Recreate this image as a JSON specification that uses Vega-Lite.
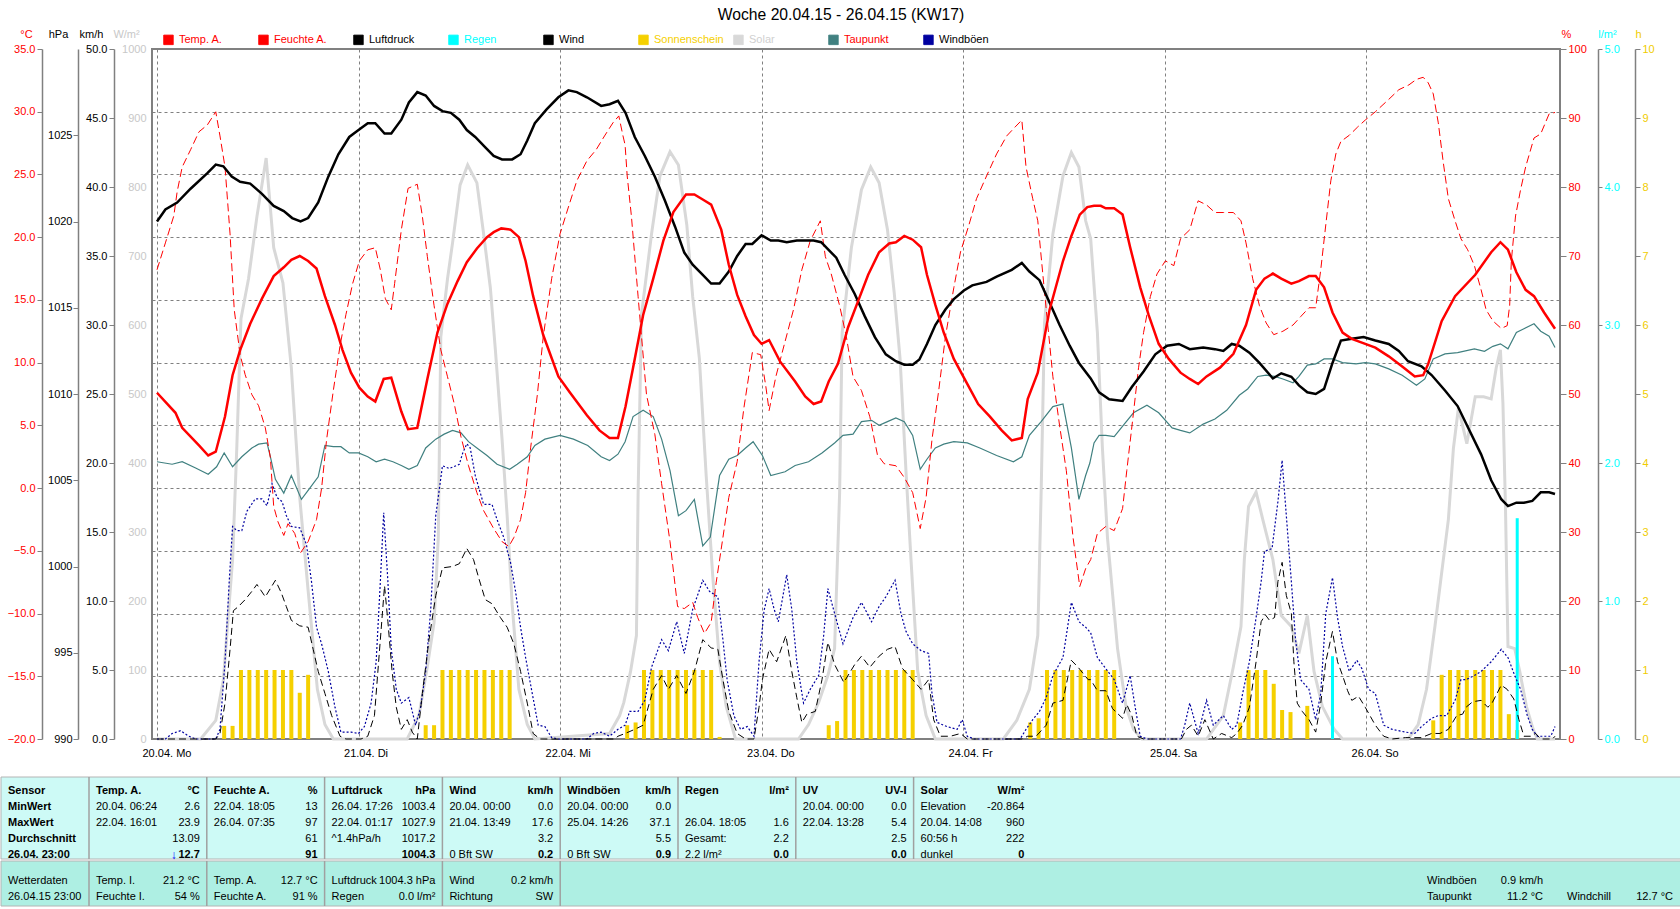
{
"$schema":"https://vega.github.io/schema/vega-lite/v6.json",
"background":"white",
"padding":{"left":0,"top":7,"right":0,"bottom":0},
"config":{"font":"Liberation Sans","view":{"stroke":null},"axis":{"labelFontSize":11,"titleFontSize":11,"titleFontWeight":"normal","domainColor":"#808080","domainWidth":1.5,"tickColor":"#808080","labelColor":"#000000","labelFlush":false,"labelOverlap":false,"grid":false},"text":{"color":"#000000"}},
"title":{"text":"Woche 20.04.15 - 26.04.15 (KW17)","fontSize":15.7,"fontWeight":"normal","color":"#000000","anchor":"middle","offset":3},
"datasets":{
"temp":[{"h":0,"v":7.6},{"h":2.2,"v":6.0},{"h":3,"v":4.8},{"h":5,"v":3.4},{"h":6.1,"v":2.6},{"h":7,"v":2.9},{"h":8.1,"v":5.7},{"h":9,"v":9.0},{"h":9.9,"v":11.0},{"h":11.1,"v":13.1},{"h":12.5,"v":15.1},{"h":13.9,"v":16.9},{"h":15.1,"v":17.6},{"h":16,"v":18.2},{"h":17,"v":18.5},{"h":18,"v":18.1},{"h":19,"v":17.5},{"h":20,"v":15.3},{"h":21.2,"v":13.0},{"h":22.1,"v":11.0},{"h":23.1,"v":9.2},{"h":24.1,"v":8.0},{"h":25.1,"v":7.3},{"h":26,"v":6.9},{"h":27,"v":8.7},{"h":27.9,"v":8.8},{"h":29.1,"v":6.1},{"h":29.9,"v":4.7},{"h":31,"v":4.8},{"h":32.2,"v":8.7},{"h":33.4,"v":12.4},{"h":34.6,"v":14.7},{"h":35.8,"v":16.5},{"h":36.9,"v":18.0},{"h":38.1,"v":19.1},{"h":39.3,"v":20.0},{"h":40.1,"v":20.4},{"h":41,"v":20.7},{"h":42.1,"v":20.6},{"h":43.1,"v":20.0},{"h":43.9,"v":18.1},{"h":44.8,"v":15.3},{"h":46,"v":12.2},{"h":47.8,"v":8.9},{"h":49.2,"v":7.6},{"h":51.2,"v":5.8},{"h":52.7,"v":4.6},{"h":53.9,"v":4.0},{"h":54.9,"v":4.0},{"h":55.8,"v":6.5},{"h":56.7,"v":9.6},{"h":57.9,"v":13.8},{"h":59.1,"v":16.7},{"h":60.3,"v":19.7},{"h":61.5,"v":22.0},{"h":63,"v":23.4},{"h":64,"v":23.4},{"h":65,"v":23.0},{"h":66,"v":22.6},{"h":67.2,"v":20.6},{"h":68.1,"v":17.8},{"h":69.1,"v":15.4},{"h":70.1,"v":13.7},{"h":71.1,"v":12.2},{"h":72,"v":11.5},{"h":72.9,"v":11.8},{"h":74.2,"v":10.1},{"h":76,"v":8.5},{"h":77.2,"v":7.3},{"h":78.2,"v":6.7},{"h":79.1,"v":6.9},{"h":80,"v":8.5},{"h":81.1,"v":9.9},{"h":82.3,"v":12.8},{"h":83.5,"v":14.9},{"h":84.7,"v":17.0},{"h":86,"v":18.8},{"h":87.2,"v":19.5},{"h":88,"v":19.6},{"h":89,"v":20.1},{"h":90,"v":19.8},{"h":91,"v":19.2},{"h":91.7,"v":17.0},{"h":92.7,"v":14.6},{"h":93.7,"v":12.4},{"h":94.9,"v":10.3},{"h":96.5,"v":8.3},{"h":97.8,"v":6.7},{"h":99.2,"v":5.7},{"h":100.6,"v":4.6},{"h":101.8,"v":3.8},{"h":103,"v":4.0},{"h":103.7,"v":7.1},{"h":104.9,"v":9.2},{"h":106.3,"v":14.2},{"h":107.9,"v":18.1},{"h":108.9,"v":20.1},{"h":109.9,"v":21.8},{"h":110.8,"v":22.4},{"h":111.6,"v":22.5},{"h":112.4,"v":22.5},{"h":113,"v":22.3},{"h":114,"v":22.3},{"h":115,"v":21.8},{"h":115.9,"v":19.2},{"h":117.1,"v":16.0},{"h":118.1,"v":13.8},{"h":119.3,"v":11.5},{"h":120.5,"v":10.3},{"h":121.9,"v":9.2},{"h":123,"v":8.7},{"h":124,"v":8.3},{"h":125,"v":8.9},{"h":126.6,"v":9.6},{"h":128.2,"v":10.7},{"h":129.7,"v":13.0},{"h":130.9,"v":15.8},{"h":131.9,"v":16.7},{"h":132.9,"v":17.1},{"h":133.9,"v":16.7},{"h":135.1,"v":16.3},{"h":136,"v":16.5},{"h":137.2,"v":16.9},{"h":138,"v":16.9},{"h":139,"v":16.0},{"h":140,"v":14.0},{"h":141.2,"v":12.4},{"h":142.3,"v":11.9},{"h":143.9,"v":11.5},{"h":145.1,"v":11.2},{"h":146.7,"v":10.5},{"h":148.3,"v":9.7},{"h":149.8,"v":8.9},{"h":150.8,"v":9.0},{"h":151.4,"v":9.9},{"h":153,"v":13.3},{"h":154.6,"v":15.3},{"h":157,"v":17.0},{"h":158.9,"v":18.8},{"h":160,"v":19.6},{"h":160.9,"v":19.0},{"h":161.9,"v":17.2},{"h":163,"v":15.8},{"h":164,"v":15.3},{"h":165.2,"v":14.0},{"h":166.5,"v":12.7}],
"druck":[{"h":0,"v":1020.0},{"h":1,"v":1020.7},{"h":2.4,"v":1021.1},{"h":4,"v":1021.9},{"h":6,"v":1022.8},{"h":7,"v":1023.3},{"h":7.9,"v":1023.2},{"h":8.9,"v":1022.6},{"h":9.9,"v":1022.3},{"h":11.1,"v":1022.2},{"h":12.5,"v":1021.6},{"h":13.9,"v":1020.9},{"h":15.1,"v":1020.6},{"h":16.1,"v":1020.2},{"h":17.1,"v":1020.0},{"h":18,"v":1020.2},{"h":19.2,"v":1021.1},{"h":20.4,"v":1022.6},{"h":21.6,"v":1023.9},{"h":22.9,"v":1024.9},{"h":24,"v":1025.3},{"h":25.1,"v":1025.7},{"h":26,"v":1025.7},{"h":27.1,"v":1025.1},{"h":27.9,"v":1025.1},{"h":29.1,"v":1025.9},{"h":30,"v":1026.9},{"h":31,"v":1027.5},{"h":32,"v":1027.3},{"h":33,"v":1026.7},{"h":34,"v":1026.4},{"h":35,"v":1026.3},{"h":36,"v":1025.9},{"h":36.9,"v":1025.3},{"h":37.9,"v":1024.9},{"h":39.1,"v":1024.3},{"h":40.1,"v":1023.8},{"h":41.1,"v":1023.6},{"h":42.3,"v":1023.6},{"h":43.3,"v":1023.9},{"h":44.1,"v":1024.7},{"h":45,"v":1025.7},{"h":46.4,"v":1026.5},{"h":47.8,"v":1027.2},{"h":49,"v":1027.6},{"h":50,"v":1027.5},{"h":51.2,"v":1027.2},{"h":52.9,"v":1026.7},{"h":53.9,"v":1026.8},{"h":54.9,"v":1027.0},{"h":55.8,"v":1026.3},{"h":56.9,"v":1024.9},{"h":58.1,"v":1023.8},{"h":59.3,"v":1022.6},{"h":60.5,"v":1021.2},{"h":61.7,"v":1019.7},{"h":62.8,"v":1018.2},{"h":63.8,"v":1017.5},{"h":65,"v":1016.9},{"h":66,"v":1016.4},{"h":67,"v":1016.4},{"h":68.1,"v":1017.1},{"h":69.1,"v":1018.0},{"h":70.1,"v":1018.7},{"h":70.9,"v":1018.7},{"h":72,"v":1019.2},{"h":73.1,"v":1018.9},{"h":74,"v":1018.9},{"h":75,"v":1018.8},{"h":76.2,"v":1018.9},{"h":77.2,"v":1018.9},{"h":78.2,"v":1018.9},{"h":79.1,"v":1018.8},{"h":79.9,"v":1018.4},{"h":80.9,"v":1017.9},{"h":81.9,"v":1016.9},{"h":83.1,"v":1015.8},{"h":84.3,"v":1014.5},{"h":85.5,"v":1013.3},{"h":86.8,"v":1012.3},{"h":88,"v":1011.9},{"h":89,"v":1011.7},{"h":90,"v":1011.7},{"h":90.8,"v":1012.0},{"h":91.7,"v":1012.9},{"h":92.7,"v":1014.0},{"h":93.9,"v":1014.9},{"h":94.9,"v":1015.5},{"h":96.1,"v":1016.0},{"h":97.1,"v":1016.3},{"h":98.8,"v":1016.5},{"h":100,"v":1016.8},{"h":101.8,"v":1017.2},{"h":103,"v":1017.6},{"h":103.9,"v":1017.1},{"h":105.1,"v":1016.6},{"h":106.3,"v":1015.3},{"h":107.5,"v":1014.0},{"h":108.7,"v":1012.8},{"h":109.8,"v":1011.8},{"h":111.2,"v":1010.9},{"h":112.2,"v":1010.1},{"h":113.4,"v":1009.7},{"h":115,"v":1009.6},{"h":116.1,"v":1010.4},{"h":117.5,"v":1011.3},{"h":118.9,"v":1012.3},{"h":120.3,"v":1012.8},{"h":121.7,"v":1012.9},{"h":123,"v":1012.6},{"h":124.6,"v":1012.7},{"h":126,"v":1012.6},{"h":127,"v":1012.5},{"h":128,"v":1012.9},{"h":128.9,"v":1012.8},{"h":130.1,"v":1012.4},{"h":131.3,"v":1011.8},{"h":132.9,"v":1010.9},{"h":133.9,"v":1011.2},{"h":135.1,"v":1011.0},{"h":136,"v":1010.5},{"h":137,"v":1010.1},{"h":138,"v":1010.0},{"h":139,"v":1010.3},{"h":140,"v":1011.8},{"h":141,"v":1013.1},{"h":142.3,"v":1013.2},{"h":143.7,"v":1013.3},{"h":145.1,"v":1013.1},{"h":146.7,"v":1012.9},{"h":147.9,"v":1012.5},{"h":149,"v":1011.9},{"h":150.6,"v":1011.6},{"h":151.8,"v":1011.1},{"h":153.4,"v":1010.2},{"h":154.9,"v":1009.3},{"h":156.3,"v":1007.9},{"h":157.7,"v":1006.5},{"h":158.9,"v":1005.0},{"h":160.1,"v":1003.9},{"h":160.9,"v":1003.5},{"h":161.9,"v":1003.7},{"h":162.8,"v":1003.7},{"h":163.8,"v":1003.8},{"h":164.8,"v":1004.3},{"h":165.8,"v":1004.3},{"h":166.5,"v":1004.2}],
"feuchte":[{"h":0,"v":68.0},{"h":1,"v":71.9},{"h":2,"v":75.8},{"h":2.4,"v":79.3},{"h":3,"v":82.9},{"h":4,"v":85.4},{"h":5,"v":88.0},{"h":6,"v":89.0},{"h":7,"v":90.9},{"h":7.5,"v":87.4},{"h":8.1,"v":82.9},{"h":8.7,"v":73.2},{"h":9.2,"v":62.2},{"h":9.9,"v":55.7},{"h":10.5,"v":52.8},{"h":11.3,"v":49.9},{"h":12.1,"v":48.3},{"h":12.9,"v":45.1},{"h":13.5,"v":40.8},{"h":13.9,"v":33.7},{"h":14.4,"v":31.5},{"h":15.1,"v":29.5},{"h":15.6,"v":31.2},{"h":16.4,"v":29.8},{"h":17.1,"v":27.0},{"h":18,"v":28.6},{"h":19,"v":31.8},{"h":19.6,"v":36.3},{"h":20.2,"v":43.4},{"h":21,"v":50.5},{"h":21.8,"v":57.0},{"h":22.5,"v":61.5},{"h":23.3,"v":66.0},{"h":24.1,"v":69.3},{"h":25.1,"v":70.9},{"h":26,"v":71.2},{"h":26.6,"v":68.0},{"h":27.2,"v":63.8},{"h":27.9,"v":62.2},{"h":28.3,"v":66.0},{"h":29.1,"v":73.8},{"h":29.9,"v":79.8},{"h":31,"v":80.4},{"h":31.6,"v":75.8},{"h":32.2,"v":69.9},{"h":33,"v":62.8},{"h":33.8,"v":56.4},{"h":34.6,"v":52.5},{"h":35.4,"v":48.6},{"h":36.2,"v":43.8},{"h":37.1,"v":39.6},{"h":38.1,"v":35.7},{"h":38.9,"v":33.1},{"h":40.1,"v":30.5},{"h":41.1,"v":28.6},{"h":41.9,"v":27.9},{"h":42.5,"v":29.2},{"h":43.3,"v":31.8},{"h":43.9,"v":35.7},{"h":44.5,"v":42.2},{"h":45.3,"v":49.9},{"h":46,"v":58.3},{"h":47,"v":66.7},{"h":48,"v":73.2},{"h":49,"v":77.1},{"h":50,"v":80.9},{"h":51.2,"v":83.8},{"h":52.3,"v":85.4},{"h":53.3,"v":87.4},{"h":54.3,"v":89.3},{"h":55,"v":90.3},{"h":55.5,"v":87.4},{"h":55.75,"v":86.1},{"h":56,"v":81.6},{"h":56.5,"v":75.8},{"h":57.3,"v":64.1},{"h":58.3,"v":49.9},{"h":59.3,"v":44.1},{"h":60.1,"v":37.0},{"h":61.1,"v":28.6},{"h":62,"v":19.2},{"h":62.8,"v":18.9},{"h":63.8,"v":19.8},{"h":64.4,"v":17.6},{"h":65.2,"v":15.3},{"h":66,"v":16.9},{"h":66.6,"v":22.7},{"h":67.4,"v":29.2},{"h":68.1,"v":35.0},{"h":69.1,"v":40.2},{"h":69.9,"v":48.0},{"h":70.9,"v":56.0},{"h":71.9,"v":55.7},{"h":72.5,"v":51.2},{"h":72.9,"v":47.6},{"h":73.7,"v":52.5},{"h":74.8,"v":57.6},{"h":75.8,"v":62.2},{"h":76.8,"v":68.0},{"h":77.8,"v":72.2},{"h":79,"v":75.1},{"h":79.6,"v":69.9},{"h":80.3,"v":67.4},{"h":81.3,"v":62.8},{"h":82.1,"v":58.3},{"h":82.9,"v":52.5},{"h":83.9,"v":50.5},{"h":84.9,"v":46.7},{"h":85.8,"v":41.2},{"h":86.6,"v":39.9},{"h":88,"v":39.6},{"h":89,"v":37.9},{"h":90,"v":35.7},{"h":90.9,"v":30.5},{"h":91.6,"v":35.0},{"h":92.3,"v":43.4},{"h":93.1,"v":50.5},{"h":93.9,"v":58.3},{"h":94.9,"v":65.4},{"h":95.7,"v":70.6},{"h":96.7,"v":74.5},{"h":97.6,"v":78.3},{"h":98.8,"v":81.6},{"h":100,"v":84.8},{"h":101.2,"v":87.4},{"h":102.2,"v":88.7},{"h":103,"v":89.7},{"h":103.5,"v":82.9},{"h":104.3,"v":78.3},{"h":104.9,"v":75.1},{"h":105.7,"v":64.8},{"h":106.7,"v":52.5},{"h":107.5,"v":45.4},{"h":108.3,"v":38.9},{"h":109.1,"v":29.2},{"h":109.9,"v":22.1},{"h":110.6,"v":24.7},{"h":111.2,"v":26.0},{"h":112,"v":29.8},{"h":113,"v":30.8},{"h":114,"v":30.2},{"h":115,"v":33.4},{"h":115.5,"v":38.9},{"h":116.3,"v":47.3},{"h":116.9,"v":53.8},{"h":117.5,"v":58.9},{"h":118.3,"v":64.1},{"h":119.1,"v":67.4},{"h":120.1,"v":69.3},{"h":121.1,"v":68.6},{"h":121.9,"v":72.5},{"h":123,"v":73.8},{"h":124,"v":78.0},{"h":125,"v":77.4},{"h":126,"v":76.3},{"h":127,"v":76.3},{"h":128.2,"v":76.3},{"h":129.1,"v":75.1},{"h":129.7,"v":71.9},{"h":130.5,"v":66.7},{"h":131.3,"v":62.8},{"h":132.1,"v":60.3},{"h":133,"v":58.6},{"h":134.1,"v":59.1},{"h":135.3,"v":60.0},{"h":136.2,"v":61.2},{"h":137.2,"v":62.5},{"h":138,"v":62.5},{"h":138.6,"v":68.0},{"h":139.2,"v":74.5},{"h":139.8,"v":80.9},{"h":140.4,"v":84.8},{"h":141,"v":86.6},{"h":142,"v":87.5},{"h":143,"v":88.7},{"h":143.9,"v":89.7},{"h":145.1,"v":90.9},{"h":146.7,"v":92.7},{"h":147.9,"v":94.1},{"h":149.1,"v":94.8},{"h":150,"v":95.6},{"h":150.8,"v":95.9},{"h":151.4,"v":95.1},{"h":152,"v":93.5},{"h":152.6,"v":89.3},{"h":153.2,"v":83.5},{"h":153.8,"v":78.3},{"h":154.6,"v":75.1},{"h":155.3,"v":72.5},{"h":156.1,"v":70.9},{"h":156.9,"v":68.6},{"h":157.7,"v":65.1},{"h":158.3,"v":62.2},{"h":159.1,"v":60.6},{"h":160.1,"v":59.5},{"h":160.8,"v":59.9},{"h":161.1,"v":62.8},{"h":161.3,"v":69.3},{"h":161.8,"v":75.8},{"h":162.4,"v":79.6},{"h":163,"v":82.9},{"h":164,"v":87.1},{"h":164.8,"v":87.7},{"h":165.8,"v":90.6},{"h":166.5,"v":90.8}],
"tau":[{"h":0,"v":2.1},{"h":1.8,"v":1.9},{"h":3,"v":2.1},{"h":4.6,"v":1.6},{"h":6.1,"v":1.1},{"h":7.1,"v":1.7},{"h":8,"v":2.8},{"h":9,"v":1.7},{"h":10.1,"v":2.5},{"h":11.3,"v":3.2},{"h":12.1,"v":3.5},{"h":13.1,"v":3.6},{"h":13.5,"v":2.5},{"h":14.1,"v":0.7},{"h":15.1,"v":-0.4},{"h":16,"v":1.0},{"h":17.2,"v":-0.9},{"h":18.2,"v":0.0},{"h":19.2,"v":0.9},{"h":20,"v":3.4},{"h":21,"v":3.3},{"h":21.9,"v":3.3},{"h":22.9,"v":2.8},{"h":24,"v":2.8},{"h":25.1,"v":2.5},{"h":26.1,"v":2.1},{"h":27.1,"v":2.3},{"h":28.1,"v":2.1},{"h":29.1,"v":1.8},{"h":30,"v":1.5},{"h":31,"v":1.8},{"h":32,"v":3.2},{"h":33.2,"v":3.9},{"h":34.2,"v":4.3},{"h":35.2,"v":4.6},{"h":36.2,"v":4.4},{"h":37.1,"v":3.7},{"h":38.3,"v":3.1},{"h":39.3,"v":2.6},{"h":40.5,"v":1.9},{"h":42,"v":1.5},{"h":42.9,"v":1.9},{"h":44.1,"v":2.5},{"h":45,"v":3.4},{"h":46.2,"v":3.9},{"h":48,"v":4.2},{"h":49.6,"v":3.9},{"h":51.3,"v":3.4},{"h":52.9,"v":2.5},{"h":53.9,"v":2.2},{"h":54.9,"v":2.7},{"h":55.75,"v":3.7},{"h":56.7,"v":5.7},{"h":57.9,"v":6.2},{"h":59.1,"v":5.7},{"h":60.1,"v":3.9},{"h":61.1,"v":1.4},{"h":62.1,"v":-2.2},{"h":63,"v":-1.8},{"h":64,"v":-0.9},{"h":65,"v":-4.6},{"h":65.9,"v":-3.9},{"h":67,"v":1.0},{"h":68.1,"v":2.3},{"h":69.1,"v":2.6},{"h":70.1,"v":3.2},{"h":71,"v":3.7},{"h":72.1,"v":2.6},{"h":73.1,"v":1.0},{"h":74.8,"v":1.3},{"h":76,"v":1.8},{"h":77.6,"v":2.1},{"h":79.2,"v":2.8},{"h":80.7,"v":3.6},{"h":81.7,"v":4.2},{"h":82.9,"v":4.3},{"h":83.9,"v":5.3},{"h":85.1,"v":5.4},{"h":86,"v":5.0},{"h":87,"v":5.3},{"h":88,"v":5.6},{"h":89,"v":5.3},{"h":90,"v":4.2},{"h":90.9,"v":1.5},{"h":91.7,"v":2.3},{"h":92.7,"v":3.2},{"h":93.7,"v":3.5},{"h":94.9,"v":3.7},{"h":96.5,"v":3.6},{"h":98,"v":3.2},{"h":100,"v":2.6},{"h":102,"v":2.1},{"h":103,"v":2.5},{"h":103.9,"v":4.2},{"h":105.3,"v":5.3},{"h":106.7,"v":6.5},{"h":107.9,"v":6.7},{"h":108.9,"v":3.2},{"h":109.8,"v":-0.9},{"h":110.6,"v":1.0},{"h":111.1,"v":2.0},{"h":111.6,"v":3.6},{"h":112.2,"v":4.2},{"h":113,"v":4.2},{"h":114,"v":4.1},{"h":115.2,"v":5.1},{"h":116.3,"v":6.0},{"h":117.9,"v":6.6},{"h":119.3,"v":6.0},{"h":120.9,"v":4.8},{"h":121.9,"v":4.6},{"h":123,"v":4.4},{"h":124.6,"v":5.1},{"h":126,"v":5.5},{"h":127.4,"v":6.2},{"h":128.9,"v":7.4},{"h":129.9,"v":7.9},{"h":131.1,"v":8.9},{"h":132.1,"v":9.0},{"h":133.1,"v":8.9},{"h":134.1,"v":8.7},{"h":135.3,"v":8.4},{"h":136,"v":8.9},{"h":137,"v":9.8},{"h":138,"v":9.9},{"h":139,"v":10.3},{"h":140,"v":10.3},{"h":141.2,"v":10.0},{"h":142.8,"v":9.9},{"h":143.9,"v":10.0},{"h":145.1,"v":9.9},{"h":146.7,"v":9.5},{"h":148.3,"v":9.0},{"h":150,"v":8.2},{"h":151,"v":8.7},{"h":152,"v":10.3},{"h":153.4,"v":10.7},{"h":154.9,"v":10.8},{"h":156.9,"v":11.1},{"h":158.1,"v":10.9},{"h":159.1,"v":11.3},{"h":160,"v":11.5},{"h":160.9,"v":11.1},{"h":161.9,"v":12.4},{"h":162.8,"v":12.7},{"h":164,"v":13.1},{"h":164.8,"v":12.5},{"h":165.8,"v":12.1},{"h":166.5,"v":11.2}],
"solar":[{"h":0,"v":0},{"h":5.2,"v":0},{"h":7,"v":27},{"h":7.9,"v":85},{"h":9,"v":260},{"h":9.5,"v":421},{"h":10,"v":609},{"h":10.9,"v":667},{"h":11.9,"v":757},{"h":13,"v":842},{"h":13.9,"v":712},{"h":15,"v":661},{"h":16,"v":538},{"h":17,"v":350},{"h":18,"v":215},{"h":19.1,"v":72},{"h":20,"v":21},{"h":21,"v":0},{"h":29.8,"v":0},{"h":31.2,"v":34},{"h":32.2,"v":105},{"h":33,"v":169},{"h":33.5,"v":292},{"h":33.8,"v":583},{"h":34.6,"v":667},{"h":35.2,"v":719},{"h":36.1,"v":803},{"h":37,"v":832},{"h":38.1,"v":806},{"h":38.9,"v":732},{"h":39.7,"v":654},{"h":40.3,"v":564},{"h":41.1,"v":434},{"h":41.7,"v":324},{"h":42.3,"v":195},{"h":43.1,"v":72},{"h":44.1,"v":21},{"h":45,"v":0},{"h":53.9,"v":8},{"h":55.1,"v":34},{"h":55.6,"v":53},{"h":56.4,"v":98},{"h":57.1,"v":150},{"h":57.3,"v":357},{"h":57.7,"v":615},{"h":58.9,"v":732},{"h":59.9,"v":816},{"h":61.1,"v":851},{"h":62.1,"v":832},{"h":63.1,"v":745},{"h":63.8,"v":641},{"h":64.6,"v":551},{"h":65.4,"v":383},{"h":66.2,"v":234},{"h":67,"v":111},{"h":67.8,"v":47},{"h":68.9,"v":0},{"h":76.4,"v":0},{"h":77.6,"v":21},{"h":78.8,"v":53},{"h":79.9,"v":92},{"h":80.7,"v":131},{"h":81.3,"v":357},{"h":81.6,"v":589},{"h":82.7,"v":712},{"h":83.9,"v":796},{"h":85,"v":829},{"h":86,"v":806},{"h":87,"v":738},{"h":87.8,"v":647},{"h":88.5,"v":551},{"h":89.2,"v":389},{"h":89.8,"v":260},{"h":90.6,"v":98},{"h":91.6,"v":34},{"h":92.7,"v":0},{"h":100.8,"v":0},{"h":102.4,"v":27},{"h":103.9,"v":72},{"h":104.9,"v":150},{"h":105.3,"v":357},{"h":105.7,"v":603},{"h":106.7,"v":732},{"h":107.9,"v":816},{"h":108.9,"v":850},{"h":109.8,"v":829},{"h":110.6,"v":751},{"h":111.2,"v":725},{"h":112,"v":589},{"h":112.6,"v":421},{"h":113.2,"v":292},{"h":114.4,"v":131},{"h":115.4,"v":47},{"h":116.3,"v":14},{"h":117.3,"v":0},{"h":125,"v":0},{"h":127,"v":34},{"h":128.2,"v":105},{"h":129.1,"v":163},{"h":129.5,"v":260},{"h":130,"v":337},{"h":130.9,"v":358},{"h":131.7,"v":318},{"h":132.9,"v":260},{"h":133.9,"v":179},{"h":135.1,"v":163},{"h":136,"v":124},{"h":137,"v":179},{"h":137.8,"v":98},{"h":138.8,"v":47},{"h":140.2,"v":14},{"h":141.2,"v":0},{"h":149,"v":0},{"h":150.2,"v":21},{"h":151.2,"v":72},{"h":152.2,"v":163},{"h":153.2,"v":260},{"h":153.8,"v":318},{"h":154.4,"v":421},{"h":155,"v":480},{"h":156,"v":428},{"h":157,"v":496},{"h":158,"v":496},{"h":158.9,"v":493},{"h":159.5,"v":538},{"h":160,"v":564},{"h":160.3,"v":486},{"h":160.6,"v":337},{"h":160.9,"v":134},{"h":161.7,"v":131},{"h":162.3,"v":98},{"h":163.1,"v":47},{"h":163.9,"v":14},{"h":164.4,"v":0},{"h":166.5,"v":0}],
"wind":[{"h":0,"v":0},{"h":7,"v":0},{"h":7.5,"v":0.4},{"h":8.1,"v":2.6},{"h":8.7,"v":6.5},{"h":9.1,"v":9.3},{"h":9.7,"v":9.6},{"h":10.5,"v":10.1},{"h":11.3,"v":10.7},{"h":11.9,"v":11.2},{"h":12.9,"v":10.3},{"h":13.5,"v":10.9},{"h":14.1,"v":11.5},{"h":14.8,"v":10.6},{"h":15.4,"v":9.6},{"h":16,"v":8.6},{"h":17,"v":8.2},{"h":18,"v":8.1},{"h":18.6,"v":6.5},{"h":19.2,"v":4.9},{"h":20,"v":3.3},{"h":20.8,"v":1.7},{"h":21.8,"v":0.2},{"h":22.5,"v":0},{"h":24.3,"v":0},{"h":25.1,"v":0.2},{"h":25.9,"v":1.7},{"h":26.6,"v":7.2},{"h":27.1,"v":11.1},{"h":27.5,"v":8.5},{"h":28,"v":4.9},{"h":28.5,"v":2.3},{"h":29.1,"v":0.7},{"h":29.8,"v":1.4},{"h":30.4,"v":0.5},{"h":31,"v":0},{"h":31.6,"v":3.3},{"h":32.4,"v":7.2},{"h":33.2,"v":10.4},{"h":34,"v":12.4},{"h":35.2,"v":12.5},{"h":36,"v":12.7},{"h":36.9,"v":13.8},{"h":37.7,"v":13.0},{"h":38.3,"v":11.7},{"h":39.1,"v":10.1},{"h":39.9,"v":9.8},{"h":40.9,"v":8.8},{"h":41.7,"v":8.1},{"h":42.5,"v":6.9},{"h":43.3,"v":4.9},{"h":44.1,"v":2.6},{"h":44.8,"v":0.4},{"h":45.6,"v":0},{"h":54.5,"v":0},{"h":54.9,"v":0.2},{"h":55.75,"v":0.4},{"h":56.9,"v":0.7},{"h":57.9,"v":1.0},{"h":58.5,"v":2.3},{"h":59.1,"v":3.6},{"h":60.1,"v":4.6},{"h":60.9,"v":3.6},{"h":61.9,"v":4.6},{"h":63,"v":3.3},{"h":64,"v":4.9},{"h":65,"v":7.2},{"h":66,"v":6.6},{"h":66.8,"v":6.5},{"h":67.4,"v":4.3},{"h":68.1,"v":2.0},{"h":69.1,"v":0.4},{"h":70.1,"v":0},{"h":71.1,"v":0},{"h":71.7,"v":2.3},{"h":72.1,"v":4.3},{"h":72.9,"v":6.5},{"h":73.8,"v":5.6},{"h":74.9,"v":7.5},{"h":75.6,"v":4.9},{"h":76.2,"v":3.0},{"h":76.8,"v":1.2},{"h":77.4,"v":1.8},{"h":78.4,"v":2.0},{"h":79.2,"v":4.3},{"h":79.9,"v":7.0},{"h":80.7,"v":5.4},{"h":81.8,"v":4.1},{"h":83.1,"v":5.4},{"h":83.9,"v":6.0},{"h":84.9,"v":5.2},{"h":86,"v":6.0},{"h":87,"v":6.5},{"h":87.9,"v":6.7},{"h":88.8,"v":5.1},{"h":90,"v":4.3},{"h":91,"v":3.6},{"h":91.9,"v":4.3},{"h":92.5,"v":1.4},{"h":93.3,"v":0.2},{"h":94.5,"v":0.2},{"h":95.7,"v":0.4},{"h":96.5,"v":0},{"h":103,"v":0},{"h":103.7,"v":0.2},{"h":104.7,"v":0.2},{"h":105.9,"v":1.0},{"h":106.7,"v":2.6},{"h":107.9,"v":2.8},{"h":108.9,"v":5.7},{"h":109.7,"v":5.2},{"h":110.9,"v":4.3},{"h":111.2,"v":4.3},{"h":112,"v":3.5},{"h":113,"v":3.5},{"h":113.8,"v":2.2},{"h":115,"v":1.5},{"h":115.5,"v":2.5},{"h":116.1,"v":1.7},{"h":116.7,"v":0.2},{"h":117.5,"v":0},{"h":122,"v":0},{"h":122.6,"v":0.7},{"h":123.2,"v":1.0},{"h":124,"v":0.2},{"h":124.8,"v":1.4},{"h":125.8,"v":0},{"h":126.8,"v":0.4},{"h":128,"v":0.1},{"h":128.6,"v":0.4},{"h":129.3,"v":1.0},{"h":130.1,"v":2.3},{"h":130.9,"v":5.6},{"h":131.5,"v":8.5},{"h":132,"v":9.0},{"h":132.5,"v":8.6},{"h":133.1,"v":8.8},{"h":133.5,"v":11.4},{"h":134,"v":12.8},{"h":134.5,"v":10.4},{"h":135.1,"v":9.1},{"h":135.4,"v":5.6},{"h":135.8,"v":2.6},{"h":136.4,"v":2.0},{"h":137.2,"v":1.4},{"h":138,"v":0.5},{"h":138.6,"v":2.6},{"h":139.2,"v":5.6},{"h":140,"v":7.8},{"h":140.6,"v":5.6},{"h":141.2,"v":4.6},{"h":141.8,"v":3.5},{"h":142.3,"v":2.8},{"h":143.1,"v":3.1},{"h":143.9,"v":2.3},{"h":145.1,"v":1.0},{"h":146.1,"v":0.2},{"h":147.1,"v":0},{"h":148.7,"v":0.1},{"h":150.6,"v":0.1},{"h":151.8,"v":0.4},{"h":152.8,"v":0.4},{"h":153.8,"v":0.7},{"h":154.8,"v":1.7},{"h":155.5,"v":1.8},{"h":155.9,"v":2.3},{"h":156.7,"v":2.7},{"h":157.7,"v":2.8},{"h":158.5,"v":2.3},{"h":159,"v":2.6},{"h":160.1,"v":3.9},{"h":160.8,"v":3.6},{"h":161.6,"v":2.9},{"h":162.2,"v":1.4},{"h":162.8,"v":0.2},{"h":163.6,"v":0.2},{"h":164.2,"v":0.4},{"h":164.8,"v":0},{"h":166.2,"v":0},{"h":166.5,"v":0.2}],
"boen":[{"h":0,"v":0},{"h":1,"v":0},{"h":1.8,"v":0.4},{"h":2.8,"v":0.6},{"h":3.8,"v":0.2},{"h":4.6,"v":0},{"h":7,"v":0},{"h":7.5,"v":0.7},{"h":8.1,"v":5.6},{"h":8.6,"v":11.4},{"h":9,"v":15.4},{"h":9.5,"v":15.1},{"h":10.1,"v":15.1},{"h":10.7,"v":16.5},{"h":11.7,"v":17.4},{"h":12.5,"v":17.4},{"h":13.1,"v":16.9},{"h":13.7,"v":18.5},{"h":14.3,"v":17.5},{"h":14.9,"v":17.2},{"h":15.4,"v":16.2},{"h":16,"v":15.4},{"h":17,"v":15.3},{"h":17.8,"v":14.1},{"h":18.4,"v":11.4},{"h":19,"v":8.1},{"h":19.6,"v":6.9},{"h":20.4,"v":4.9},{"h":21.2,"v":2.3},{"h":21.9,"v":0.5},{"h":23.1,"v":0.5},{"h":24,"v":0.4},{"h":24.7,"v":0.9},{"h":25.5,"v":2.6},{"h":26.1,"v":5.6},{"h":26.6,"v":11.4},{"h":27,"v":16.4},{"h":27.5,"v":11.4},{"h":27.9,"v":6.5},{"h":28.5,"v":3.6},{"h":29.1,"v":2.6},{"h":30,"v":3.0},{"h":30.8,"v":1.0},{"h":31.4,"v":2.3},{"h":32,"v":4.9},{"h":32.6,"v":9.4},{"h":33.2,"v":16.2},{"h":34,"v":19.8},{"h":34.8,"v":19.6},{"h":36,"v":19.9},{"h":36.4,"v":20.7},{"h":36.9,"v":21.4},{"h":37.3,"v":21.1},{"h":37.9,"v":19.1},{"h":38.9,"v":17.0},{"h":39.9,"v":17.0},{"h":40.5,"v":15.9},{"h":41.3,"v":14.6},{"h":42.1,"v":12.8},{"h":42.7,"v":10.7},{"h":43.3,"v":8.1},{"h":43.9,"v":5.9},{"h":44.6,"v":3.6},{"h":45.4,"v":1.0},{"h":46.2,"v":0.9},{"h":47,"v":0.1},{"h":47.8,"v":0},{"h":51.2,"v":0},{"h":52,"v":0.4},{"h":52.9,"v":0.5},{"h":53.9,"v":0.2},{"h":54.9,"v":0.7},{"h":55.75,"v":1.0},{"h":56.3,"v":2.0},{"h":57.3,"v":2.0},{"h":58.1,"v":2.8},{"h":58.9,"v":5.2},{"h":60.1,"v":7.2},{"h":60.9,"v":6.4},{"h":61.9,"v":8.5},{"h":62.8,"v":6.2},{"h":63.8,"v":9.4},{"h":65,"v":11.5},{"h":65.8,"v":10.7},{"h":66.8,"v":10.3},{"h":67.4,"v":7.2},{"h":67.9,"v":4.3},{"h":68.7,"v":1.7},{"h":69.5,"v":0.7},{"h":70.3,"v":0.9},{"h":71.1,"v":0.2},{"h":71.7,"v":5.6},{"h":72.3,"v":9.3},{"h":72.9,"v":10.9},{"h":73.5,"v":9.4},{"h":74,"v":8.5},{"h":75,"v":11.9},{"h":75.6,"v":9.4},{"h":76.2,"v":5.6},{"h":77,"v":2.6},{"h":77.8,"v":3.6},{"h":78.8,"v":4.6},{"h":79.4,"v":7.5},{"h":79.9,"v":10.9},{"h":80.7,"v":9.1},{"h":81.7,"v":6.9},{"h":82.9,"v":8.8},{"h":83.9,"v":9.9},{"h":85.1,"v":8.5},{"h":86,"v":9.6},{"h":86.8,"v":10.3},{"h":87.9,"v":11.5},{"h":88.6,"v":9.1},{"h":89.2,"v":7.8},{"h":90,"v":6.9},{"h":91,"v":6.4},{"h":91.9,"v":6.2},{"h":92.3,"v":3.3},{"h":92.9,"v":1.2},{"h":94.1,"v":0.9},{"h":95.3,"v":0.7},{"h":95.9,"v":1.4},{"h":96.5,"v":0.2},{"h":97.3,"v":0},{"h":102.8,"v":0},{"h":103.5,"v":0.7},{"h":104.3,"v":1.4},{"h":105.1,"v":2.0},{"h":105.9,"v":3.0},{"h":106.7,"v":4.6},{"h":107.9,"v":5.9},{"h":108.9,"v":9.9},{"h":109.8,"v":8.5},{"h":110.6,"v":8.1},{"h":111.2,"v":7.7},{"h":112,"v":5.9},{"h":113,"v":5.1},{"h":114,"v":4.3},{"h":115,"v":2.6},{"h":115.9,"v":4.6},{"h":116.5,"v":2.3},{"h":117.1,"v":0.2},{"h":117.9,"v":0},{"h":121.9,"v":0},{"h":122.4,"v":1.0},{"h":123,"v":2.6},{"h":124,"v":0.4},{"h":125,"v":2.8},{"h":125.8,"v":1.0},{"h":127,"v":1.7},{"h":128,"v":0.7},{"h":128.6,"v":1.0},{"h":129.3,"v":3.3},{"h":130.1,"v":5.6},{"h":130.9,"v":8.8},{"h":131.5,"v":11.4},{"h":131.9,"v":13.6},{"h":132.8,"v":13.8},{"h":133.5,"v":17.2},{"h":134,"v":20.2},{"h":134.5,"v":16.2},{"h":135.1,"v":11.4},{"h":135.6,"v":7.2},{"h":136.2,"v":4.3},{"h":137.2,"v":3.6},{"h":138,"v":1.4},{"h":138.6,"v":3.3},{"h":139.2,"v":9.1},{"h":140,"v":11.7},{"h":140.6,"v":8.8},{"h":141.2,"v":6.7},{"h":142,"v":4.9},{"h":142.9,"v":5.7},{"h":143.5,"v":5.1},{"h":144.3,"v":3.6},{"h":145.1,"v":3.3},{"h":146.1,"v":1.0},{"h":147.1,"v":0.7},{"h":148.7,"v":0.5},{"h":149.8,"v":0.4},{"h":150.6,"v":0.9},{"h":151.8,"v":1.5},{"h":152.6,"v":1.7},{"h":153.6,"v":1.7},{"h":154.6,"v":2.8},{"h":155.3,"v":4.3},{"h":155.9,"v":4.3},{"h":156.9,"v":4.6},{"h":157.7,"v":4.9},{"h":158.9,"v":5.6},{"h":160.1,"v":6.5},{"h":160.9,"v":5.9},{"h":161.7,"v":4.6},{"h":162.4,"v":3.6},{"h":163.2,"v":1.7},{"h":163.8,"v":0.7},{"h":164.4,"v":0.2},{"h":166,"v":0.2},{"h":166.5,"v":0.9}],
"sonne":[{"h":8,"v":0.19},{"h":9,"v":0.19},{"h":10,"v":1},{"h":11,"v":1},{"h":12,"v":1},{"h":13,"v":1},{"h":14,"v":1},{"h":15,"v":1},{"h":16,"v":1},{"h":17,"v":0.67},{"h":18,"v":0.93},{"h":32,"v":0.2},{"h":33,"v":0.2},{"h":34,"v":1},{"h":35,"v":1},{"h":36,"v":1},{"h":37,"v":1},{"h":38,"v":1},{"h":39,"v":1},{"h":40,"v":1},{"h":41,"v":1},{"h":42,"v":1},{"h":56,"v":0.2},{"h":57,"v":0.24},{"h":58,"v":1},{"h":59,"v":1},{"h":60,"v":1},{"h":61,"v":1},{"h":62,"v":1},{"h":63,"v":1},{"h":64,"v":1},{"h":65,"v":1},{"h":66,"v":1},{"h":67,"v":0.03},{"h":80,"v":0.2},{"h":81,"v":0.26},{"h":82,"v":1},{"h":83,"v":1},{"h":84,"v":1},{"h":85,"v":1},{"h":86,"v":1},{"h":87,"v":1},{"h":88,"v":1},{"h":89,"v":1},{"h":90,"v":1},{"h":104,"v":0.24},{"h":105,"v":0.3},{"h":106,"v":1},{"h":107,"v":1},{"h":108,"v":1},{"h":109,"v":1},{"h":110,"v":1},{"h":111,"v":1},{"h":112,"v":1},{"h":113,"v":1},{"h":114,"v":1},{"h":129,"v":0.24},{"h":130,"v":1},{"h":131,"v":1},{"h":132,"v":1},{"h":133,"v":0.8},{"h":134,"v":0.42},{"h":135,"v":0.39},{"h":137,"v":0.48},{"h":152,"v":0.27},{"h":153,"v":0.93},{"h":154,"v":1},{"h":155,"v":1},{"h":156,"v":1},{"h":157,"v":1},{"h":158,"v":1},{"h":159,"v":1},{"h":160,"v":1},{"h":161,"v":0.36},{"h":162,"v":0.13}],
"regen":[{"h":140,"v":0.6},{"h":162,"v":1.6}],
"tab":[{"r":0,"c":1,"s":"l","t":"Sensor"},{"r":1,"c":1,"s":"l","t":"MinWert"},{"r":2,"c":1,"s":"l","t":"MaxWert"},{"r":3,"c":1,"s":"l","t":"Durchschnitt"},{"r":4,"c":1,"s":"l","t":"26.04. 23:00"},
{"r":0,"c":2,"s":"l","t":"Temp. A."},{"r":0,"c":2,"s":"r","t":"°C"},{"r":1,"c":2,"s":"l","t":"20.04. 06:24"},{"r":1,"c":2,"s":"r","t":"2.6"},{"r":2,"c":2,"s":"l","t":"22.04. 16:01"},{"r":2,"c":2,"s":"r","t":"23.9"},{"r":3,"c":2,"s":"r","t":"13.09"},{"r":4,"c":2,"s":"r","t":"12.7"},{"r":4,"c":2,"s":"a","t":"↓"},
{"r":0,"c":3,"s":"l","t":"Feuchte A."},{"r":0,"c":3,"s":"r","t":"%"},{"r":1,"c":3,"s":"l","t":"22.04. 18:05"},{"r":1,"c":3,"s":"r","t":"13"},{"r":2,"c":3,"s":"l","t":"26.04. 07:35"},{"r":2,"c":3,"s":"r","t":"97"},{"r":3,"c":3,"s":"r","t":"61"},{"r":4,"c":3,"s":"r","t":"91"},
{"r":0,"c":4,"s":"l","t":"Luftdruck"},{"r":0,"c":4,"s":"r","t":"hPa"},{"r":1,"c":4,"s":"l","t":"26.04. 17:26"},{"r":1,"c":4,"s":"r","t":"1003.4"},{"r":2,"c":4,"s":"l","t":"22.04. 01:17"},{"r":2,"c":4,"s":"r","t":"1027.9"},{"r":3,"c":4,"s":"l","t":"^1.4hPa/h"},{"r":3,"c":4,"s":"r","t":"1017.2"},{"r":4,"c":4,"s":"r","t":"1004.3"},
{"r":0,"c":5,"s":"l","t":"Wind"},{"r":0,"c":5,"s":"r","t":"km/h"},{"r":1,"c":5,"s":"l","t":"20.04. 00:00"},{"r":1,"c":5,"s":"r","t":"0.0"},{"r":2,"c":5,"s":"l","t":"21.04. 13:49"},{"r":2,"c":5,"s":"r","t":"17.6"},{"r":3,"c":5,"s":"r","t":"3.2"},{"r":4,"c":5,"s":"l","t":"0 Bft SW"},{"r":4,"c":5,"s":"r","t":"0.2"},
{"r":0,"c":6,"s":"l","t":"Windböen"},{"r":0,"c":6,"s":"r","t":"km/h"},{"r":1,"c":6,"s":"l","t":"20.04. 00:00"},{"r":1,"c":6,"s":"r","t":"0.0"},{"r":2,"c":6,"s":"l","t":"25.04. 14:26"},{"r":2,"c":6,"s":"r","t":"37.1"},{"r":3,"c":6,"s":"r","t":"5.5"},{"r":4,"c":6,"s":"l","t":"0 Bft SW"},{"r":4,"c":6,"s":"r","t":"0.9"},
{"r":0,"c":7,"s":"l","t":"Regen"},{"r":0,"c":7,"s":"r","t":"l/m²"},{"r":2,"c":7,"s":"l","t":"26.04. 18:05"},{"r":2,"c":7,"s":"r","t":"1.6"},{"r":3,"c":7,"s":"l","t":"Gesamt:"},{"r":3,"c":7,"s":"r","t":"2.2"},{"r":4,"c":7,"s":"l","t":"2.2 l/m²"},{"r":4,"c":7,"s":"r","t":"0.0"},
{"r":0,"c":8,"s":"l","t":"UV"},{"r":0,"c":8,"s":"r","t":"UV-I"},{"r":1,"c":8,"s":"l","t":"20.04. 00:00"},{"r":1,"c":8,"s":"r","t":"0.0"},{"r":2,"c":8,"s":"l","t":"22.04. 13:28"},{"r":2,"c":8,"s":"r","t":"5.4"},{"r":3,"c":8,"s":"r","t":"2.5"},{"r":4,"c":8,"s":"r","t":"0.0"},
{"r":0,"c":9,"s":"l","t":"Solar"},{"r":0,"c":9,"s":"r","t":"W/m²"},{"r":1,"c":9,"s":"l","t":"Elevation"},{"r":1,"c":9,"s":"r","t":"-20.864"},{"r":2,"c":9,"s":"l","t":"20.04. 14:08"},{"r":2,"c":9,"s":"r","t":"960"},{"r":3,"c":9,"s":"l","t":"60:56 h"},{"r":3,"c":9,"s":"r","t":"222"},{"r":4,"c":9,"s":"l","t":"dunkel"},{"r":4,"c":9,"s":"r","t":"0"},
{"r":5,"c":1,"s":"l","t":"Wetterdaten"},{"r":6,"c":1,"s":"l","t":"26.04.15 23:00"},
{"r":5,"c":2,"s":"l","t":"Temp. I."},{"r":5,"c":2,"s":"r","t":"21.2 °C"},{"r":6,"c":2,"s":"l","t":"Feuchte I."},{"r":6,"c":2,"s":"r","t":"54 %"},
{"r":5,"c":3,"s":"l","t":"Temp. A."},{"r":5,"c":3,"s":"r","t":"12.7 °C"},{"r":6,"c":3,"s":"l","t":"Feuchte A."},{"r":6,"c":3,"s":"r","t":"91 %"},
{"r":5,"c":4,"s":"l","t":"Luftdruck"},{"r":5,"c":4,"s":"r","t":"1004.3 hPa"},{"r":6,"c":4,"s":"l","t":"Regen"},{"r":6,"c":4,"s":"r","t":"0.0 l/m²"},
{"r":5,"c":5,"s":"l","t":"Wind"},{"r":5,"c":5,"s":"r","t":"0.2 km/h"},{"r":6,"c":5,"s":"l","t":"Richtung"},{"r":6,"c":5,"s":"r","t":"SW"},
{"r":5,"c":10,"s":"l","t":"Windböen"},{"r":5,"c":10,"s":"r","t":"0.9 km/h"},{"r":6,"c":10,"s":"l","t":"Taupunkt"},{"r":6,"c":10,"s":"r","t":"11.2 °C"},
{"r":6,"c":11,"s":"l","t":"Windchill"},{"r":6,"c":11,"s":"r","t":"12.7 °C"}],
"blocks":[{"blk":"oben","c0":1,"c1":12,"r0":-0.875,"r1":4.25},{"blk":"unten","c0":1,"c1":12,"r0":4.375,"r1":6.5625}],
"seps":[{"c":2,"r0":-0.875,"r1":4.25},{"c":3,"r0":-0.875,"r1":4.25},{"c":4,"r0":-0.875,"r1":4.25},{"c":5,"r0":-0.875,"r1":4.25},{"c":6,"r0":-0.875,"r1":4.25},{"c":7,"r0":-0.875,"r1":4.25},{"c":8,"r0":-0.875,"r1":4.25},{"c":9,"r0":-0.875,"r1":4.25},{"c":2,"r0":4.375,"r1":6.5625},{"c":3,"r0":4.375,"r1":6.5625},{"c":4,"r0":4.375,"r1":6.5625},{"c":5,"r0":4.375,"r1":6.5625},{"c":6,"r0":4.375,"r1":6.5625}]
},
"vconcat":[
{
"width":1408,"height":690,
"view":{"stroke":"#808080","strokeWidth":2,"fill":"white"},
"encoding":{"x":{"field":"h","type":"quantitative","scale":{"domain":[0,166.5],"nice":false,"zero":false},"axis":{"values":[0,24,48,72,96,120,144],"labelExpr":"['20.04.  Mo','21.04.  Di','22.04.  Mi','23.04.  Do','24.04.  Fr','25.04.  Sa','26.04.  So'][round(datum.value/24)]","grid":true,"gridDash":[3,3],"gridColor":"#808080","gridWidth":1,"ticks":false,"tickSize":0,"domain":false,"labelAlign":"left","labelOffset":-15,"labelPadding":8,"labelBaseline":"top","title":null}}},
"layer":[
{"data":{"name":"sonne"},"mark":{"type":"bar","size":4},
 "encoding":{"y":{"field":"v","type":"quantitative","scale":{"domain":[0,10],"nice":false,"zero":false},"axis":{"orient":"right","offset":75,"values":[0,1,2,3,4,5,6,7,8,9,10],"format":"d","labelColor":"#f0cc00","tickSize":5,"labelPadding":2,"title":"h","titleColor":"#f0cc00","titleAngle":0,"titleX":3,"titleY":-15,"titleAlign":"center","titleBaseline":"middle"}},
 "color":{"datum":"Sonnenschein","type":"nominal","scale":{"domain":["Temp. A.","Feuchte A.","Luftdruck","Regen","Wind","Sonnenschein","Solar","Taupunkt","Windböen"],"range":["#ff0000","#ff0000","#000000","#00ffff","#000000","#f5d000","#d8d8d8","#408080","#0000a0"]},
  "legend":{"orient":"none","legendX":11,"legendY":-15,"direction":"horizontal","columns":9,"gridAlign":"all","columnPadding":7,"symbolType":"square","symbolSize":90,"symbolStrokeWidth":1,"symbolStrokeColor":"#000000","labelFontSize":11,"labelOffset":5,"title":null,"padding":0,
   "encode":{"symbols":{"update":{"fill":{"scale":"color","field":"value"},"stroke":{"value":"#000000"},"strokeWidth":{"value":1},"opacity":{"value":1},"strokeDash":{"value":[1,0]}}},
             "labels":{"update":{"fill":{"signal":"indexof(['Temp. A.','Feuchte A.','Taupunkt'], datum.label) >= 0 ? '#ff0000' : datum.label == 'Regen' ? '#00ffff' : datum.label == 'Sonnenschein' ? '#f5d000' : datum.label == 'Solar' ? '#d0d0d0' : '#000000'"}}}}}}}},
{"data":{"name":"solar"},"mark":{"type":"line","strokeWidth":3},
 "encoding":{"y":{"field":"v","type":"quantitative","scale":{"domain":[0,1000],"nice":false,"zero":false},"axis":{"orient":"left","offset":0,"values":[0,100,200,300,400,500,600,700,800,900,1000],"format":"d","labelColor":"#c8c8c8","ticks":false,"tickSize":0,"labelPadding":6,"domain":false,"title":"W/m²","titleColor":"#c8c8c8","titleAngle":0,"titleX":-26,"titleY":-15,"titleAlign":"center","titleBaseline":"middle"}},
 "color":{"datum":"Solar","type":"nominal","scale":{"domain":["Temp. A.","Feuchte A.","Luftdruck","Regen","Wind","Sonnenschein","Solar","Taupunkt","Windböen"],"range":["#ff0000","#ff0000","#000000","#00ffff","#000000","#f5d000","#d8d8d8","#408080","#0000a0"]},"legend":null}}},
{"data":{"name":"regen"},"mark":{"type":"bar","size":3},
 "encoding":{"y":{"field":"v","type":"quantitative","scale":{"domain":[0,5],"nice":false,"zero":false},"axis":{"orient":"right","offset":38,"values":[0,1,2,3,4,5],"format":".1f","labelColor":"#00ffff","tickSize":4,"labelPadding":2,"title":"l/m²","titleColor":"#00ffff","titleAngle":0,"titleX":9,"titleY":-15,"titleAlign":"center","titleBaseline":"middle"}},
 "color":{"datum":"Regen","type":"nominal","scale":{"domain":["Temp. A.","Feuchte A.","Luftdruck","Regen","Wind","Sonnenschein","Solar","Taupunkt","Windböen"],"range":["#ff0000","#ff0000","#000000","#00ffff","#000000","#f5d000","#d8d8d8","#408080","#0000a0"]},"legend":null}}},
{"data":{"name":"boen"},"mark":{"type":"line","strokeWidth":1.2,"strokeDash":[2,2]},
 "encoding":{"y":{"field":"v","type":"quantitative","scale":{"domain":[0,50],"nice":false,"zero":false},"axis":{"orient":"left","offset":38,"values":[0,5,10,15,20,25,30,35,40,45,50],"format":".1f","tickSize":5,"labelPadding":2,"title":"km/h","titleAngle":0,"titleX":-23,"titleY":-15,"titleAlign":"center","titleBaseline":"middle"}},
 "color":{"datum":"Windböen","type":"nominal","scale":{"domain":["Temp. A.","Feuchte A.","Luftdruck","Regen","Wind","Sonnenschein","Solar","Taupunkt","Windböen"],"range":["#ff0000","#ff0000","#000000","#00ffff","#000000","#f5d000","#d8d8d8","#408080","#0000a0"]},"legend":null}}},
{"data":{"name":"wind"},"mark":{"type":"line","strokeWidth":1,"strokeDash":[7,4]},
 "encoding":{"y":{"field":"v","type":"quantitative","scale":{"domain":[0,50],"nice":false,"zero":false},"axis":null},
 "color":{"datum":"Wind","type":"nominal","scale":{"domain":["Temp. A.","Feuchte A.","Luftdruck","Regen","Wind","Sonnenschein","Solar","Taupunkt","Windböen"],"range":["#ff0000","#ff0000","#000000","#00ffff","#000000","#f5d000","#d8d8d8","#408080","#0000a0"]},"legend":null}}},
{"data":{"name":"tau"},"mark":{"type":"line","strokeWidth":1.2},
 "encoding":{"y":{"field":"v","type":"quantitative","scale":{"domain":[-20,35],"nice":false,"zero":false},"axis":{"orient":"left","offset":0,"values":[-15,-10,-5,0,5,10,15,20,25,30],"grid":true,"gridDash":[3,3],"gridColor":"#808080","gridWidth":1,"labels":false,"ticks":false,"domain":false,"title":null}},
 "color":{"datum":"Taupunkt","type":"nominal","scale":{"domain":["Temp. A.","Feuchte A.","Luftdruck","Regen","Wind","Sonnenschein","Solar","Taupunkt","Windböen"],"range":["#ff0000","#ff0000","#000000","#00ffff","#000000","#f5d000","#d8d8d8","#408080","#0000a0"]},"legend":null}}},
{"data":{"name":"feuchte"},"mark":{"type":"line","strokeWidth":1,"strokeDash":[8,4]},
 "encoding":{"y":{"field":"v","type":"quantitative","scale":{"domain":[0,100],"nice":false,"zero":false},"axis":{"orient":"right","offset":0,"values":[0,10,20,30,40,50,60,70,80,90,100],"format":"d","labelColor":"#ff0000","tickSize":6,"labelPadding":2,"domain":false,"title":"%","titleColor":"#ff0000","titleAngle":0,"titleX":6,"titleY":-15,"titleAlign":"center","titleBaseline":"middle"}},
 "color":{"datum":"Feuchte A.","type":"nominal","scale":{"domain":["Temp. A.","Feuchte A.","Luftdruck","Regen","Wind","Sonnenschein","Solar","Taupunkt","Windböen"],"range":["#ff0000","#ff0000","#000000","#00ffff","#000000","#f5d000","#d8d8d8","#408080","#0000a0"]},"legend":null}}},
{"data":{"name":"druck"},"mark":{"type":"line","strokeWidth":2.5},
 "encoding":{"y":{"field":"v","type":"quantitative","scale":{"domain":[990,1030],"nice":false,"zero":false},"axis":{"orient":"left","offset":74,"values":[990,995,1000,1005,1010,1015,1020,1025],"format":"d","tickSize":5,"labelPadding":1,"title":"hPa","titleAngle":0,"titleX":-20,"titleY":-15,"titleAlign":"center","titleBaseline":"middle"}},
 "color":{"datum":"Luftdruck","type":"nominal","scale":{"domain":["Temp. A.","Feuchte A.","Luftdruck","Regen","Wind","Sonnenschein","Solar","Taupunkt","Windböen"],"range":["#ff0000","#ff0000","#000000","#00ffff","#000000","#f5d000","#d8d8d8","#408080","#0000a0"]},"legend":null}}},
{"data":{"name":"temp"},"mark":{"type":"line","strokeWidth":2.5},
 "encoding":{"y":{"field":"v","type":"quantitative","scale":{"domain":[-20,35],"nice":false,"zero":false},"axis":{"orient":"left","offset":110,"values":[-20,-15,-10,-5,0,5,10,15,20,25,30,35],"format":".1f","labelColor":"#ff0000","tickSize":5,"labelPadding":2,"title":"°C","titleColor":"#ff0000","titleAngle":0,"titleX":-16,"titleY":-15,"titleAlign":"center","titleBaseline":"middle"}},
 "color":{"datum":"Temp. A.","type":"nominal","scale":{"domain":["Temp. A.","Feuchte A.","Luftdruck","Regen","Wind","Sonnenschein","Solar","Taupunkt","Windböen"],"range":["#ff0000","#ff0000","#000000","#00ffff","#000000","#f5d000","#d8d8d8","#408080","#0000a0"]},"legend":null}}}
],
"resolve":{"scale":{"y":"independent"}}
},
{
"width":1529,"height":129,
"layer":[
{"data":{"name":"blocks"},"transform":[{"filter":"datum.blk=='oben'"}],"mark":{"type":"rect","fill":"#cdfaf6","stroke":"#b4b4b4","strokeWidth":1},
 "encoding":{"x":{"field":"c0","type":"quantitative","scale":{"domain":[1,2,9,10,11,12],"range":[-151,-63,761.6,1268,1408,1529],"nice":false,"zero":false},"axis":null},"x2":{"field":"c1"},
  "y":{"field":"r0","type":"quantitative","scale":{"domain":[-0.875,4.25,4.375,5,6,6.5625],"range":[0,82,84,104,120,129],"nice":false,"zero":false},"axis":null},"y2":{"field":"r1"}}},
{"data":{"name":"blocks"},"transform":[{"filter":"datum.blk=='unten'"}],"mark":{"type":"rect","fill":"#aeefe3","stroke":"#b4b4b4","strokeWidth":1},
 "encoding":{"x":{"field":"c0","type":"quantitative","scale":{"domain":[1,2,9,10,11,12],"range":[-151,-63,761.6,1268,1408,1529],"nice":false,"zero":false},"axis":null},"x2":{"field":"c1"},
  "y":{"field":"r0","type":"quantitative","scale":{"domain":[-0.875,4.25,4.375,5,6,6.5625],"range":[0,82,84,104,120,129],"nice":false,"zero":false},"axis":null},"y2":{"field":"r1"}}},
{"data":{"name":"seps"},"mark":{"type":"rule","color":"#a0a0a0","strokeWidth":1.5},
 "encoding":{"x":{"field":"c","type":"quantitative","scale":{"domain":[1,2,9,10,11,12],"range":[-151,-63,761.6,1268,1408,1529],"nice":false,"zero":false},"axis":null},
  "y":{"field":"r0","type":"quantitative","scale":{"domain":[-0.875,4.25,4.375,5,6,6.5625],"range":[0,82,84,104,120,129],"nice":false,"zero":false},"axis":null},"y2":{"field":"r1"}}},
{"data":{"name":"tab"},"transform":[{"filter":"datum.s=='l' && (datum.r==0 || (datum.c==1 && datum.r<=4))"}],"mark":{"type":"text","align":"left","baseline":"middle","dx":7,"fontSize":11,"fontWeight":"bold","color":"#000000"},
 "encoding":{"x":{"field":"c","type":"quantitative","scale":{"domain":[1,2,9,10,11,12],"range":[-151,-63,761.6,1268,1408,1529],"nice":false,"zero":false},"axis":null},"y":{"field":"r","type":"quantitative","scale":{"domain":[-0.875,4.25,4.375,5,6,6.5625],"range":[0,82,84,104,120,129],"nice":false,"zero":false},"axis":null},"text":{"field":"t"}}},
{"data":{"name":"tab"},"transform":[{"filter":"datum.s=='l' && !(datum.r==0 || (datum.c==1 && datum.r<=4))"}],"mark":{"type":"text","align":"left","baseline":"middle","dx":7,"fontSize":11,"color":"#000000"},
 "encoding":{"x":{"field":"c","type":"quantitative","scale":{"domain":[1,2,9,10,11,12],"range":[-151,-63,761.6,1268,1408,1529],"nice":false,"zero":false},"axis":null},"y":{"field":"r","type":"quantitative","scale":{"domain":[-0.875,4.25,4.375,5,6,6.5625],"range":[0,82,84,104,120,129],"nice":false,"zero":false},"axis":null},"text":{"field":"t"}}},
{"data":{"name":"tab"},"transform":[{"filter":"datum.s=='r' && (datum.r==0 || datum.r==4)"}],"mark":{"type":"text","align":"right","baseline":"middle","dx":-7,"fontSize":11,"fontWeight":"bold","color":"#000000"},
 "encoding":{"x":{"field":"c","type":"quantitative","scale":{"domain":[1,2,9,10,11],"range":[-63,54.8,879.4,1398,1528],"nice":false,"zero":false},"axis":null},"y":{"field":"r","type":"quantitative","scale":{"domain":[-0.875,4.25,4.375,5,6,6.5625],"range":[0,82,84,104,120,129],"nice":false,"zero":false},"axis":null},"text":{"field":"t"}}},
{"data":{"name":"tab"},"transform":[{"filter":"datum.s=='r' && datum.r!=0 && datum.r!=4"}],"mark":{"type":"text","align":"right","baseline":"middle","dx":-7,"fontSize":11,"color":"#000000"},
 "encoding":{"x":{"field":"c","type":"quantitative","scale":{"domain":[1,2,9,10,11],"range":[-63,54.8,879.4,1398,1528],"nice":false,"zero":false},"axis":null},"y":{"field":"r","type":"quantitative","scale":{"domain":[-0.875,4.25,4.375,5,6,6.5625],"range":[0,82,84,104,120,129],"nice":false,"zero":false},"axis":null},"text":{"field":"t"}}},
{"data":{"name":"tab"},"transform":[{"filter":"datum.s=='a'"}],"mark":{"type":"text","align":"right","baseline":"middle","dx":-30,"fontSize":12,"fontWeight":"bold","color":"#0000ff"},
 "encoding":{"x":{"field":"c","type":"quantitative","scale":{"domain":[1,2,9,10,11],"range":[-63,54.8,879.4,1398,1528],"nice":false,"zero":false},"axis":null},"y":{"field":"r","type":"quantitative","scale":{"domain":[-0.875,4.25,4.375,5,6,6.5625],"range":[0,82,84,104,120,129],"nice":false,"zero":false},"axis":null},"text":{"field":"t"}}}
],
"resolve":{"scale":{"x":"independent"}}
}
],
"spacing":17
}
